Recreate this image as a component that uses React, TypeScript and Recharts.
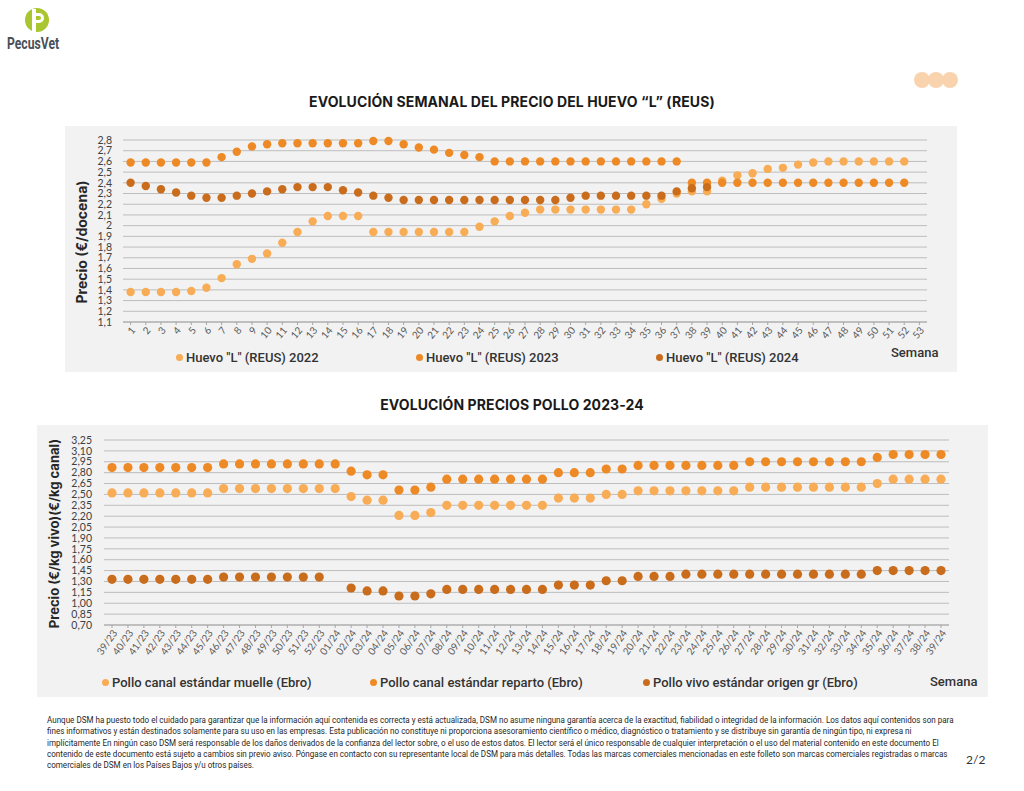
import React from 'react';
import { ComposedChart, Line, XAxis, YAxis, CartesianGrid } from 'recharts';

// --- huevo "L" (REUS), weekly price €/docena ---
const SEMANAS = ['1', '2', '3', '4', '5', '6', '7', '8', '9', '10', '11', '12', '13', '14', '15', '16', '17', '18', '19', '20', '21', '22', '23', '24', '25', '26', '27', '28', '29', '30', '31', '32', '33', '34', '35', '36', '37', '38', '39', '40', '41', '42', '43', '44', '45', '46', '47', '48', '49', '50', '51', '52', '53'];
const HUEVO_2022 = [1.38, 1.38, 1.38, 1.38, 1.39, 1.42, 1.51, 1.64, 1.69, 1.74, 1.84, 1.94, 2.04, 2.09, 2.09, 2.09, 1.94, 1.94, 1.94, 1.94, 1.94, 1.94, 1.94, 1.99, 2.04, 2.09, 2.12, 2.15, 2.15, 2.15, 2.15, 2.15, 2.15, 2.15, 2.2, 2.25, 2.3, 2.32, 2.32, 2.42, 2.47, 2.49, 2.53, 2.54, 2.57, 2.59, 2.6, 2.6, 2.6, 2.6, 2.6, 2.6, null];
const HUEVO_2023 = [2.59, 2.59, 2.59, 2.59, 2.59, 2.59, 2.64, 2.69, 2.74, 2.76, 2.77, 2.77, 2.77, 2.77, 2.77, 2.77, 2.79, 2.79, 2.76, 2.73, 2.71, 2.68, 2.66, 2.64, 2.6, 2.6, 2.6, 2.6, 2.6, 2.6, 2.6, 2.6, 2.6, 2.6, 2.6, 2.6, 2.6, 2.4, 2.4, 2.4, 2.4, 2.4, 2.4, 2.4, 2.4, 2.4, 2.4, 2.4, 2.4, 2.4, 2.4, 2.4, null];
const HUEVO_2024 = [2.4, 2.37, 2.34, 2.31, 2.28, 2.26, 2.26, 2.28, 2.3, 2.32, 2.34, 2.36, 2.36, 2.36, 2.33, 2.31, 2.28, 2.26, 2.24, 2.24, 2.24, 2.24, 2.24, 2.24, 2.24, 2.24, 2.24, 2.24, 2.24, 2.26, 2.28, 2.28, 2.28, 2.28, 2.28, 2.28, 2.32, 2.35, 2.36, null, null, null, null, null, null, null, null, null, null, null, null, null, null];
const HUEVO_TICKS = [1.1, 1.2, 1.3, 1.4, 1.5, 1.6, 1.7, 1.8, 1.9, 2, 2.1, 2.2, 2.3, 2.4, 2.5, 2.6, 2.7, 2.8];

// --- pollo 2023-24 ---
const SEMANAS_POLLO = ['39/23', '40/23', '41/23', '42/23', '43/23', '44/23', '45/23', '46/23', '47/23', '48/23', '49/23', '50/23', '51/23', '52/23', '01/24', '02/24', '03/24', '04/24', '05/24', '06/24', '07/24', '08/24', '09/24', '10/24', '11/24', '12/24', '13/24', '14/24', '15/24', '16/24', '17/24', '18/24', '19/24', '20/24', '21/24', '22/24', '23/24', '24/24', '25/24', '26/24', '27/24', '28/24', '29/24', '30/24', '31/24', '32/24', '33/24', '34/24', '35/24', '36/24', '37/24', '38/24', '39/24'];
const CANAL_MUELLE = [2.52, 2.52, 2.52, 2.52, 2.52, 2.52, 2.52, 2.58, 2.58, 2.58, 2.58, 2.58, 2.58, 2.58, 2.58, 2.47, 2.42, 2.42, 2.21, 2.21, 2.25, 2.35, 2.35, 2.35, 2.35, 2.35, 2.35, 2.35, 2.45, 2.45, 2.45, 2.5, 2.5, 2.55, 2.55, 2.55, 2.55, 2.55, 2.55, 2.55, 2.6, 2.6, 2.6, 2.6, 2.6, 2.6, 2.6, 2.6, 2.65, 2.71, 2.71, 2.71, 2.71];
const CANAL_REPARTO = [2.87, 2.87, 2.87, 2.87, 2.87, 2.87, 2.87, 2.92, 2.92, 2.92, 2.92, 2.92, 2.92, 2.92, 2.92, 2.82, 2.77, 2.77, 2.56, 2.56, 2.6, 2.71, 2.71, 2.71, 2.71, 2.71, 2.71, 2.71, 2.8, 2.8, 2.8, 2.85, 2.85, 2.9, 2.9, 2.9, 2.9, 2.9, 2.9, 2.9, 2.95, 2.95, 2.95, 2.95, 2.95, 2.95, 2.95, 2.95, 3.01, 3.05, 3.05, 3.05, 3.05];
const VIVO_ORIGEN = [1.33, 1.33, 1.33, 1.33, 1.33, 1.33, 1.33, 1.36, 1.36, 1.36, 1.36, 1.36, 1.36, 1.36, null, 1.21, 1.17, 1.17, 1.1, 1.1, 1.13, 1.19, 1.19, 1.19, 1.19, 1.19, 1.19, 1.19, 1.25, 1.25, 1.25, 1.31, 1.31, 1.37, 1.37, 1.37, 1.4, 1.4, 1.4, 1.4, 1.4, 1.4, 1.4, 1.4, 1.4, 1.4, 1.4, 1.4, 1.45, 1.45, 1.45, 1.45, 1.45];
const POLLO_TICKS = [0.7, 0.85, 1, 1.15, 1.3, 1.45, 1.6, 1.75, 1.9, 2.05, 2.2, 2.35, 2.5, 2.65, 2.8, 2.95, 3.1, 3.25];

const HUEVO_NAMES = ['Huevo "L" (REUS) 2022', 'Huevo "L" (REUS) 2023', 'Huevo "L" (REUS) 2024'];
const POLLO_NAMES = ['Pollo canal estándar muelle (Ebro)', 'Pollo canal estándar reparto (Ebro)', 'Pollo vivo estándar origen gr (Ebro)'];

const LIGHT = '#F8AC55';
const MID = '#EE8A26';
const DARK = '#C96C1C';
const COLORS = [LIGHT, MID, DARK];

const huevoRows = SEMANAS.map((s, i) => ({ s, a: HUEVO_2022[i], b: HUEVO_2023[i], c: HUEVO_2024[i] }));
const polloRows = SEMANAS_POLLO.map((s, i) => ({ s, a: CANAL_MUELLE[i], b: CANAL_REPARTO[i], c: VIVO_ORIGEN[i] }));

const fmt1 = (v: number) => String(Math.round(v * 10) / 10).replace('.', ',');
const fmt2 = (v: number) => v.toFixed(2).replace('.', ',');

const tickFont = { fontSize: 10.5, fill: '#404040', fontFamily: 'Lato, sans-serif' };
const legendFont: React.CSSProperties = { fontFamily: 'Roboto, sans-serif', fontWeight: 500, fontSize: 13, color: '#333', whiteSpace: 'nowrap' };

const YLabel = ({ viewBox, text, dx, dy, size }: any) => {
  const x = viewBox.x + dx;
  const y = viewBox.y + viewBox.height / 2 + dy;
  return (
    <text x={x} y={y} transform={`rotate(-90 ${x} ${y})`} textAnchor="middle" dominantBaseline="middle"
      style={{ fontFamily: 'Inter, sans-serif', fontWeight: 700, fontSize: size, fill: '#262626' }}>
      {text}
    </text>
  );
};

const Legend = ({ names, xs, y, semanaX, semanaY }: any) => (
  <>
    {names.map((n: string, i: number) => (
      <div key={n} style={{ ...legendFont, position: 'absolute', left: xs[i], top: y, display: 'flex', alignItems: 'center' }}>
        <span style={{ width: 7, height: 7, borderRadius: 4, background: COLORS[i], marginRight: 3, display: 'inline-block' }} />
        {n}
      </div>
    ))}
    <div style={{ ...legendFont, position: 'absolute', left: semanaX, top: semanaY }}>Semana</div>
  </>
);

const dots = (r: number) => COLORS.map((c, i) => (
  <Line key={i} dataKey={['a', 'b', 'c'][i]} yAxisId="l" stroke="none" isAnimationActive={false}
    dot={{ r, fill: c, stroke: 'none', fillOpacity: 1 }} activeDot={false} connectNulls={false} />
));

const titleStyle: React.CSSProperties = {
  position: 'absolute', left: 0, width: 1024, textAlign: 'center', fontFamily: 'Inter, sans-serif',
  fontWeight: 700, fontSize: 14, color: '#1a1a1a', letterSpacing: 0.1,
};

export default function App() {
  return (
    <div style={{ position: 'absolute', left: 0, top: 0, width: 1024, height: 791, background: '#fff', overflow: 'hidden' }}>
      {/* logo */}
      <svg style={{ position: 'absolute', left: 22, top: 7 }} width={30} height={28}>
        <circle cx={15} cy={13} r={12} fill="#A9C52F" />
        <rect x={10} y={2} width={4} height={24} fill="#fff" />
        <path d="M14 6 h3 a5 5 0 0 1 0 10 h-3 z" fill="#fff" />
        <path d="M14 9 h3 a2 2 0 0 1 0 4 h-3 z" fill="#A9C52F" />
      </svg>
      <div style={{ position: 'absolute', left: 7, top: 34, fontFamily: 'Roboto, sans-serif', fontWeight: 700, fontSize: 16, color: '#4B5057', transform: 'scaleX(0.76)', transformOrigin: 'left top' }}>PecusVet</div>
      <svg style={{ position: 'absolute', left: 910, top: 70 }} width={52} height={20}>
        <circle cx={12} cy={10} r={8} fill="#F9D3AD" />
        <circle cx={26} cy={10} r={8} fill="#F9D3AD" />
        <circle cx={40} cy={10} r={8} fill="#F9D3AD" />
      </svg>

      <div style={{ ...titleStyle, top: 93 }}>EVOLUCIÓN SEMANAL DEL PRECIO DEL HUEVO “L” (REUS)</div>

      <div style={{ position: 'absolute', left: 65, top: 126, width: 892, height: 246, background: '#F2F2F2' }}>
        <ComposedChart width={892} height={246} data={huevoRows} margin={{ top: 14, right: 0, bottom: 0, left: 28 }}>
          <CartesianGrid yAxisId="l" vertical={false} stroke="#BDBDBD" strokeWidth={1} />
          <XAxis dataKey="s" interval={0} height={50} padding={{ left: 7.6, right: 7.6 }}
            tick={{ ...tickFont, fontSize: 10, fill: '#595959' }} angle={-50} textAnchor="end"
            tickSize={3} tickMargin={1} stroke="#A6A6A6" />
          <YAxis yAxisId="l" width={30} domain={[1.1, 2.8]} ticks={HUEVO_TICKS} tickFormatter={fmt1} interval={0}
            axisLine={false} tickLine={false} tickMargin={5} tick={tickFont}
            label={<YLabel text="Precio (€/docena)" dx={-10} dy={11} size={14} />} />
          <YAxis yAxisId="r" orientation="right" width={30} domain={[1.1, 2.8]} ticks={HUEVO_TICKS} tickFormatter={fmt1} interval={0}
            axisLine={false} tickLine={false} tickMargin={5} tick={{ ...tickFont, textAnchor: 'start' }} />
          {dots(4.2)}
        </ComposedChart>
        <Legend names={HUEVO_NAMES} xs={[111, 351, 591]} y={224} semanaX={826} semanaY={219} />
      </div>

      <div style={{ ...titleStyle, top: 396 }}>EVOLUCIÓN PRECIOS POLLO 2023-24</div>

      <div style={{ position: 'absolute', left: 37, top: 425, width: 951, height: 272, background: '#F2F2F2' }}>
        <ComposedChart width={951} height={250} data={polloRows} margin={{ top: 15, right: 3, bottom: 0, left: 31 }}>
          <CartesianGrid yAxisId="l" vertical={false} stroke="#BDBDBD" strokeWidth={1} />
          <XAxis dataKey="s" interval={0} height={50} padding={{ left: 8, right: 8 }}
            tick={{ ...tickFont, fontSize: 10, fill: '#595959' }} angle={-55} textAnchor="end"
            tickSize={3} tickMargin={1} stroke="#A6A6A6" />
          <YAxis yAxisId="l" width={36} domain={[0.7, 3.25]} ticks={POLLO_TICKS} tickFormatter={fmt2} interval={0}
            axisLine={false} tickLine={false} tickMargin={6} tick={tickFont}
            label={<YLabel text="Precio (€/kg vivo)(€/kg canal)" dx={-13} dy={1} size={13} />} />
          <YAxis yAxisId="r" orientation="right" width={36} domain={[0.7, 3.25]} ticks={POLLO_TICKS} tickFormatter={fmt2} interval={0}
            axisLine={false} tickLine={false} tickMargin={2} tick={{ ...tickFont, textAnchor: 'start' }} />
          {dots(4.6)}
        </ComposedChart>
        <Legend names={POLLO_NAMES} xs={[65, 333, 606]} y={250} semanaX={893} semanaY={249} />
      </div>

      <div style={{ position: 'absolute', left: 47, top: 715, fontFamily: 'Roboto, sans-serif', fontSize: 9, lineHeight: '11.3px', color: '#262626', whiteSpace: 'nowrap', transform: 'scaleX(0.895)', transformOrigin: 'left top' }}>
        <div>Aunque DSM ha puesto todo el cuidado para garantizar que la información aquí contenida es correcta y está actualizada, DSM no asume ninguna garantía acerca de la exactitud, fiabilidad o integridad de la información. Los datos aquí contenidos son para</div>
        <div>fines informativos y están destinados solamente para su uso en las empresas. Esta publicación no constituye ni proporciona asesoramiento científico o médico, diagnóstico o tratamiento y se distribuye sin garantía de ningún tipo, ni expresa ni</div>
        <div>implícitamente En ningún caso DSM será responsable de los daños derivados de la confianza del lector sobre, o el uso de estos datos. El lector será el único responsable de cualquier interpretación o el uso del material contenido en este documento El</div>
        <div>contenido de este documento está sujeto a cambios sin previo aviso. Póngase en contacto con su representante local de DSM para más detalles. Todas las marcas comerciales mencionadas en este folleto son marcas comerciales registradas o marcas</div>
        <div>comerciales de DSM en los Países Bajos y/u otros países.</div>
      </div>
      <div style={{ position: 'absolute', left: 966, top: 752, fontFamily: 'Lato, sans-serif', fontSize: 12, color: '#333' }}>2/2</div>
    </div>
  );
}
